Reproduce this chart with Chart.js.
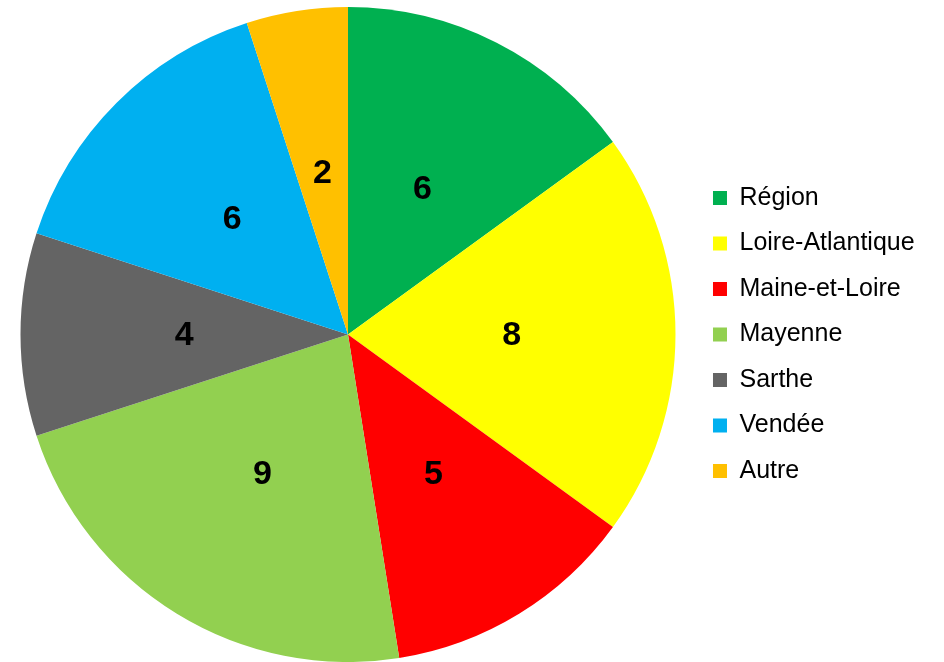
<!DOCTYPE html>
<html>
<head>
<meta charset="utf-8">
<script src="https://cdn.jsdelivr.net/npm/chart.js@4/dist/chart.umd.min.js"></script>
<style>
  html, body { margin: 0; padding: 0; background: #fff; }
  canvas { display: block; }
</style>
</head>
<body>
<canvas id="myChart" width="944" height="662"></canvas>
<script>
const categories = ['Région', 'Loire-Atlantique', 'Maine-et-Loire', 'Mayenne', 'Sarthe', 'Vendée', 'Autre']
const values = [6, 8, 5, 9, 4, 6, 2]
const colors = ['#00B050', '#FFFF00', '#FF0000', '#92D050', '#646464', '#00B0F0', '#FFC000']

// draws the value in the middle of each slice
const sliceLabels = {
  id: 'sliceLabels',
  afterDatasetsDraw(chart) {
    const ctx = chart.ctx
    const meta = chart.getDatasetMeta(0)
    ctx.save()
    ctx.font = 'bold 34px "Liberation Sans", Arial, sans-serif'
    ctx.fillStyle = '#000'
    ctx.textAlign = 'center'
    ctx.textBaseline = 'middle'
    meta.data.forEach((arc, i) => {
      const pos = arc.tooltipPosition()
      ctx.fillText(String(values[i]), pos.x, pos.y + 1)
    })
    ctx.restore()
  }
}

var ctx = document.getElementById('myChart').getContext('2d');
var chart = new Chart(ctx, {
  type: 'pie',
  data: {
    labels: categories,
    datasets: [{
      data: values,
      backgroundColor: colors,
      borderWidth: 0
    }]
  },
  options: {
    responsive: false,
    animation: false,
    layout: {
      padding: { left: 3.5, top: 7, bottom: 0, right: 19.4 }
    },
    plugins: {
      tooltip: { enabled: false },
      legend: {
        position: 'right',
        align: 'center',
        labels: {
          color: '#000',
          boxWidth: 14,
          boxHeight: 14,
          padding: 20.5,
          font: { family: '"Liberation Sans", Arial, sans-serif', size: 25 }
        }
      }
    }
  },
  plugins: [sliceLabels]
});
</script>
</body>
</html>
